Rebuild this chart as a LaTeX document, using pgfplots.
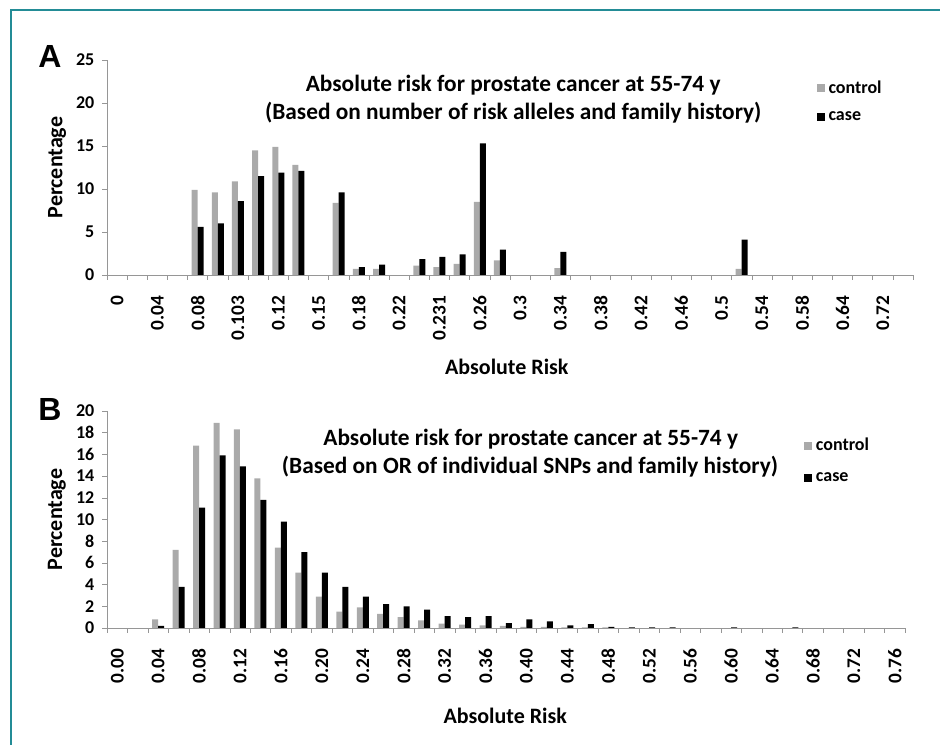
\documentclass[border=0pt]{standalone}
\usepackage{fontspec}
\setmainfont{Carlito}
\newfontfamily\panelfont{Liberation Sans}
\usepackage{pgfplots}
\pgfplotsset{compat=1.18}

\definecolor{ctrl}{RGB}{170,170,170}
\definecolor{frameteal}{RGB}{35,140,150}
\definecolor{axgray}{RGB}{150,150,150}

\tikzset{ttl/.style={font=\bfseries\fontsize{17.5}{18}\selectfont}}

\pgfplotsset{
  riskbars/.style={
    scale only axis,
    ybar=0pt, bar width=4.5pt,
    axis x line=bottom, axis y line=left,
    axis line style={axgray,-},
    ymin=0, xmin=-0.5,
    tick align=outside,
    major tick length=0pt, minor tick length=3.5pt,
    every tick/.style={axgray},
    /pgf/number format/assume math mode=true,
    xticklabel shift=12pt, yticklabel shift=6pt,
    x tick label style={font=\bfseries\fontsize{14.5}{14}\selectfont, rotate=90, anchor=east},
    y tick label style={font=\bfseries\fontsize{13.5}{14}\selectfont},
    label style={font=\bfseries\fontsize{16.5}{18}\selectfont},
    xlabel={Absolute Risk},
    ylabel={Percentage},
    legend style={draw=none, fill=none, anchor=north west,
      font=\bfseries\fontsize{13.5}{14}\selectfont,
      nodes={inner xsep=3pt},
      cells={anchor=west}},
    legend image code/.code={\fill[#1] (0pt,-3pt) rectangle (6pt,3pt);},
  },
}

\begin{document}
\begin{tikzpicture}
\path[use as bounding box] (0,0) rectangle (705pt,558.75pt);
\draw[frameteal, line width=1.5pt] (8.25pt,0) -- (8.25pt,551.25pt) -- (705pt,551.25pt);

% panel A
\node[font=\panelfont\bfseries\fontsize{24}{24}\selectfont] at (37.5pt,516pt) {A};
\begin{axis}[riskbars,
  at={(80.25pt,352.5pt)}, anchor=south west,
  width=604.5pt, height=161.25pt,
  xmax=39.5, ymax=25,
  xtick={0,2,...,38},
  xticklabels={0,0.04,0.08,0.103,0.12,0.15,0.18,0.22,0.231,0.26,0.3,0.34,0.38,0.42,0.46,0.5,0.54,0.58,0.64,0.72},
  minor xtick={-0.5,0.5,...,39.5},
  ytick={0,5,...,25}, minor ytick={0,5,...,25},
  xlabel style={at={(axis description cs:0.496,-0.428)}, anchor=center},
  ylabel style={at={(axis description cs:-0.062,0.5)}, anchor=center},
  legend style={at={(0.875,0.93)}, row sep=8.5pt},
]
\addplot[fill=ctrl, draw=none] coordinates {
(4,9.9) (5,9.6) (6,10.9) (7,14.5) (8,14.9) (9,12.8) (11,8.4) (12,0.7) (13,0.7)
(15,1.1) (16,0.9) (17,1.3) (18,8.5) (19,1.7) (22,0.8) (31,0.7)};
\addplot[fill=black, draw=none] coordinates {
(4,5.6) (5,6.0) (6,8.6) (7,11.5) (8,11.9) (9,12.1) (11,9.6) (12,0.9) (13,1.2)
(15,1.85) (16,2.1) (17,2.4) (18,15.3) (19,2.95) (22,2.7) (31,4.1)};
\legend{control,case}
\node[ttl] at (rel axis cs:0.504,0.884) {Absolute risk for prostate cancer at 55-74 y};
\node[ttl] at (rel axis cs:0.504,0.753) {(Based on number of risk alleles and family history)};
\end{axis}

% panel B
\node[font=\panelfont\bfseries\fontsize{24}{24}\selectfont] at (37.5pt,251.25pt) {B};
\begin{axis}[riskbars,
  at={(80.25pt,87.75pt)}, anchor=south west,
  width=598.5pt, height=162.75pt,
  xmax=38.5, ymax=20,
  xtick={0,2,...,38},
  xticklabels={0.00,0.04,0.08,0.12,0.16,0.20,0.24,0.28,0.32,0.36,0.40,0.44,0.48,0.52,0.56,0.60,0.64,0.68,0.72,0.76},
  minor xtick={-0.5,0.5,...,38.5},
  ytick={0,2,...,20}, minor ytick={0,2,...,20},
  xlabel style={at={(axis description cs:0.499,-0.406)}, anchor=center},
  ylabel style={at={(axis description cs:-0.0627,0.5)}, anchor=center},
  legend style={at={(0.868,0.9)}, row sep=11pt},
]
\addplot[fill=ctrl, draw=none] coordinates {
(2,0.8) (3,7.2) (4,16.8) (5,18.9) (6,18.3) (7,13.8) (8,7.4) (9,5.1) (10,2.9)
(11,1.5) (12,1.9) (13,1.3) (14,1.0) (15,0.7) (16,0.4) (17,0.3) (18,0.25) (19,0.2)
(20,0.1) (21,0.1) (22,0.05) (23,0.05) (24,0.05)};
\addplot[fill=black, draw=none] coordinates {
(2,0.2) (3,3.8) (4,11.1) (5,15.9) (6,14.9) (7,11.8) (8,9.8) (9,7.0) (10,5.1)
(11,3.8) (12,2.9) (13,2.2) (14,2.0) (15,1.7) (16,1.1) (17,1.0) (18,1.1) (19,0.45)
(20,0.8) (21,0.6) (22,0.25) (23,0.35) (24,0.1) (25,0.05) (26,0.05) (27,0.05)
(30,0.05) (33,0.05)};
\legend{control,case}
\node[ttl] at (rel axis cs:0.531,0.871) {Absolute risk for prostate cancer at 55-74 y};
\node[ttl] at (rel axis cs:0.530,0.742) {(Based on OR of individual SNPs and family history)};
\end{axis}
\end{tikzpicture}
\end{document}
